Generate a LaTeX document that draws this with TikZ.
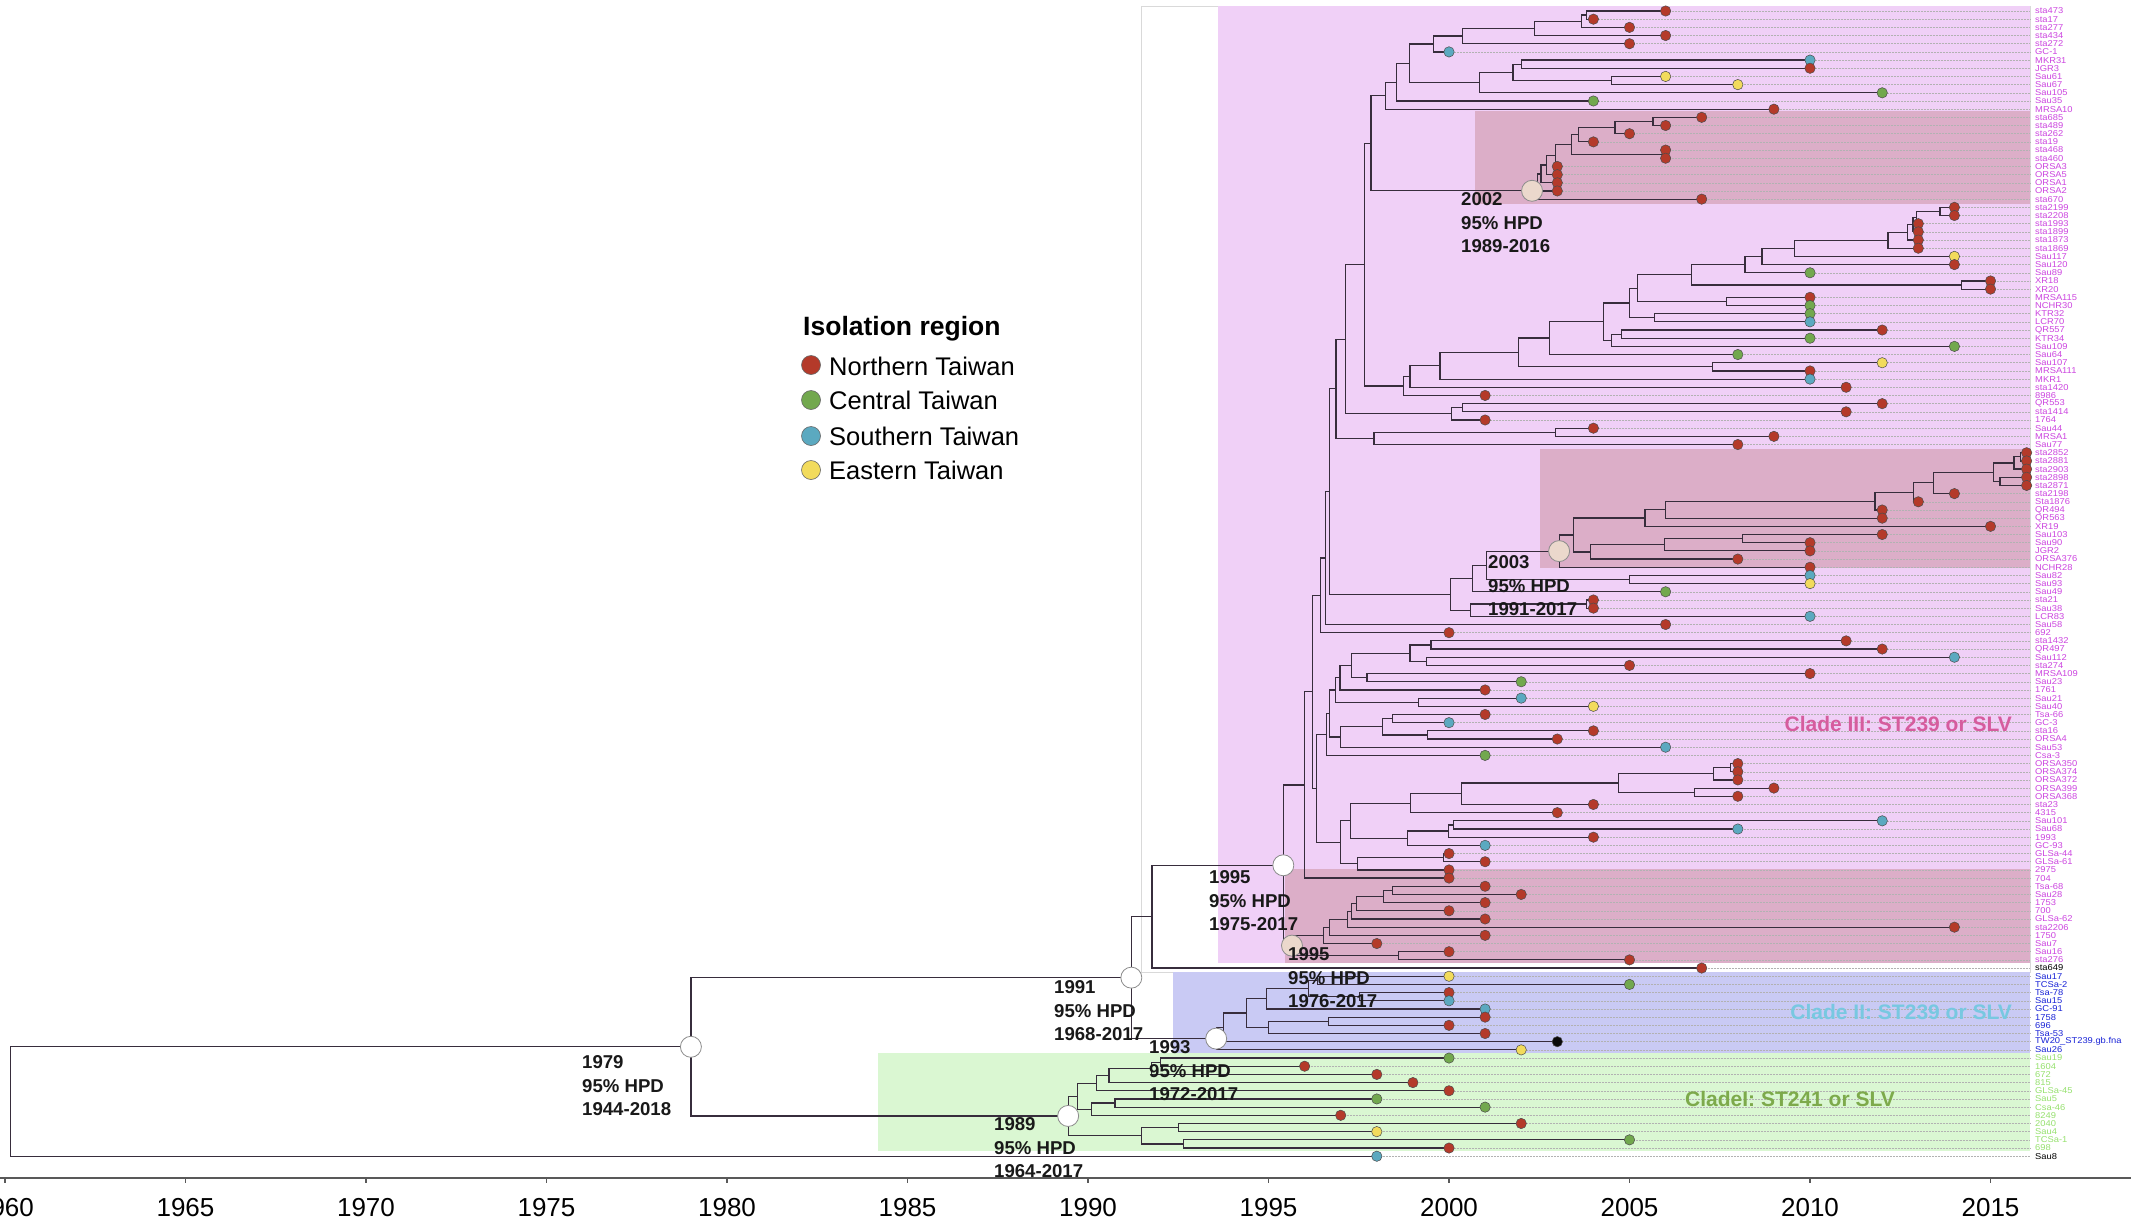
\documentclass[tikz,border=0pt]{standalone}
\usepackage{fontspec}
\setmainfont{Liberation Sans}
\newfontfamily\tipfont[FakeStretch=1.1]{Liberation Sans}
\usetikzlibrary{calc}
\pgfdeclarelayer{bg}\pgfdeclarelayer{ext}\pgfdeclarelayer{fg}
\pgfsetlayers{bg,ext,main,fg}
\definecolor{nt}{RGB}{180,58,42}
\definecolor{ct}{RGB}{114,168,78}
\definecolor{st}{RGB}{91,169,192}
\definecolor{et}{RGB}{242,219,92}
\definecolor{bk}{RGB}{10,10,10}
\definecolor{c3}{RGB}{204,68,224}
\definecolor{c2}{RGB}{25,35,215}
\definecolor{c1}{RGB}{150,225,110}
\definecolor{brc}{RGB}{55,45,60}
\definecolor{pinkbox}{RGB}{240,208,247}
\definecolor{mauvebox}{RGB}{220,174,200}
\definecolor{bluebox}{RGB}{201,202,244}
\definecolor{greenbox}{RGB}{218,247,210}
\definecolor{beige}{RGB}{235,216,204}
\definecolor{cl3}{RGB}{214,92,158}
\definecolor{cl2}{RGB}{120,200,225}
\definecolor{cl1}{RGB}{125,170,75}
\tikzset{
  br/.style={draw=brc, line width=1.2pt},
  extl/.style={draw=black!30, line width=0.5pt, densely dotted},
  tipdot/.style={draw=black!70, line width=0.5pt},
  tiplab/.style={anchor=west, inner sep=0pt, font=\tipfont\fontsize{8.5}{9}\selectfont},
  hpdw/.style={circle, draw=black!45, line width=0.8pt, fill=white, minimum size=21pt, inner sep=0pt},
  hpdb/.style={circle, draw=black!45, line width=0.8pt, fill=beige, minimum size=21pt, inner sep=0pt},
  hpdlab/.style={anchor=west, inner sep=0pt, align=left, text=black!90, font=\bfseries\fontsize{18.6}{23.5}\selectfont},
  cladelab/.style={inner sep=0pt, font=\bfseries\fontsize{21}{24}\selectfont},
  leglab/.style={anchor=west, inner sep=0pt, font=\fontsize{25.5}{28}\selectfont},
  legdot/.style={circle, draw=black!60, line width=0.6pt, minimum size=19pt, inner sep=0pt},
  axlab/.style={inner sep=0pt, font=\fontsize{26}{28}\selectfont}
}
\newcommand{\innode}[4]{%
  \path let \p1=(#3), \p2=(#4) in ({((#2)-2000)*36.1pt+1449pt},{0.5*(\y1)+0.5*(\y2)}) coordinate (#1);%
  \draw[br] (#1) |- (#3);%
  \draw[br] (#1) |- (#4);%
}
\newcommand{\tipnode}[6]{%
  \coordinate (#1) at ({((#3)-2000)*36.1pt+1449pt},{-(11+((#2)-1)*8.18)*1pt});%
  \begin{pgfonlayer}{ext}\draw[extl] (#1) -- (#1 -| rgt);\end{pgfonlayer}%
  \begin{pgfonlayer}{fg}\path[tipdot, fill=#4] (#1) circle[radius=5.2pt];\end{pgfonlayer}%
  \node[tiplab, text=#5] (lab#1) at ({2035pt},{-(11+((#2)-1)*8.18)*1pt}) {#6};%
}
\begin{document}
\begin{tikzpicture}[x=1pt,y=-1pt]
\useasboundingbox (0,0) rectangle (2131,1229);
\coordinate (rgt) at (2030,0);
% ---------- boxes ----------
\begin{pgfonlayer}{bg}
\fill[white] (0,0) rectangle (2131,1229);
\draw[draw=black!15, fill=white, line width=0.8pt] (1141,6) rectangle (2030,972);
\fill[pinkbox] (1218,6) rectangle (2030,963);
\fill[mauvebox] (1475,111) rectangle (2030,204);
\fill[mauvebox] (1540,449) rectangle (2030,568);
\fill[mauvebox] (1285,869) rectangle (2030,963);
\fill[bluebox] (1173,972) rectangle (2030,1053);
\fill[greenbox] (878,1053) rectangle (2030,1151);
\end{pgfonlayer}
% ---------- tips ----------
\tipnode{t1}{1}{2006}{nt}{c3}{sta473}
\tipnode{t2}{2}{2004}{nt}{c3}{sta17}
\tipnode{t3}{3}{2005}{nt}{c3}{sta277}
\tipnode{t4}{4}{2006}{nt}{c3}{sta434}
\tipnode{t5}{5}{2005}{nt}{c3}{sta272}
\tipnode{t6}{6}{2000}{st}{c3}{GC-1}
\tipnode{t7}{7}{2010}{st}{c3}{MKR31}
\tipnode{t8}{8}{2010}{nt}{c3}{JGR3}
\tipnode{t9}{9}{2006}{et}{c3}{Sau61}
\tipnode{t10}{10}{2008}{et}{c3}{Sau67}
\tipnode{t11}{11}{2012}{ct}{c3}{Sau105}
\tipnode{t12}{12}{2004}{ct}{c3}{Sau35}
\tipnode{t13}{13}{2009}{nt}{c3}{MRSA10}
\tipnode{t14}{14}{2007}{nt}{c3}{sta685}
\tipnode{t15}{15}{2006}{nt}{c3}{sta489}
\tipnode{t16}{16}{2005}{nt}{c3}{sta262}
\tipnode{t17}{17}{2004}{nt}{c3}{sta19}
\tipnode{t18}{18}{2006}{nt}{c3}{sta468}
\tipnode{t19}{19}{2006}{nt}{c3}{sta460}
\tipnode{t20}{20}{2003}{nt}{c3}{ORSA3}
\tipnode{t21}{21}{2003}{nt}{c3}{ORSA5}
\tipnode{t22}{22}{2003}{nt}{c3}{ORSA1}
\tipnode{t23}{23}{2003}{nt}{c3}{ORSA2}
\tipnode{t24}{24}{2007}{nt}{c3}{sta670}
\tipnode{t25}{25}{2014}{nt}{c3}{sta2199}
\tipnode{t26}{26}{2014}{nt}{c3}{sta2208}
\tipnode{t27}{27}{2013}{nt}{c3}{sta1993}
\tipnode{t28}{28}{2013}{nt}{c3}{sta1899}
\tipnode{t29}{29}{2013}{nt}{c3}{sta1873}
\tipnode{t30}{30}{2013}{nt}{c3}{sta1869}
\tipnode{t31}{31}{2014}{et}{c3}{Sau117}
\tipnode{t32}{32}{2014}{nt}{c3}{Sau120}
\tipnode{t33}{33}{2010}{ct}{c3}{Sau89}
\tipnode{t34}{34}{2015}{nt}{c3}{XR18}
\tipnode{t35}{35}{2015}{nt}{c3}{XR20}
\tipnode{t36}{36}{2010}{nt}{c3}{MRSA115}
\tipnode{t37}{37}{2010}{ct}{c3}{NCHR30}
\tipnode{t38}{38}{2010}{ct}{c3}{KTR32}
\tipnode{t39}{39}{2010}{st}{c3}{LCR70}
\tipnode{t40}{40}{2012}{nt}{c3}{QR557}
\tipnode{t41}{41}{2010}{ct}{c3}{KTR34}
\tipnode{t42}{42}{2014}{ct}{c3}{Sau109}
\tipnode{t43}{43}{2008}{ct}{c3}{Sau64}
\tipnode{t44}{44}{2012}{et}{c3}{Sau107}
\tipnode{t45}{45}{2010}{nt}{c3}{MRSA111}
\tipnode{t46}{46}{2010}{st}{c3}{MKR1}
\tipnode{t47}{47}{2011}{nt}{c3}{sta1420}
\tipnode{t48}{48}{2001}{nt}{c3}{8986}
\tipnode{t49}{49}{2012}{nt}{c3}{QR553}
\tipnode{t50}{50}{2011}{nt}{c3}{sta1414}
\tipnode{t51}{51}{2001}{nt}{c3}{1764}
\tipnode{t52}{52}{2004}{nt}{c3}{Sau44}
\tipnode{t53}{53}{2009}{nt}{c3}{MRSA1}
\tipnode{t54}{54}{2008}{nt}{c3}{Sau77}
\tipnode{t55}{55}{2016}{nt}{c3}{sta2852}
\tipnode{t56}{56}{2016}{nt}{c3}{sta2881}
\tipnode{t57}{57}{2016}{nt}{c3}{sta2903}
\tipnode{t58}{58}{2016}{nt}{c3}{sta2898}
\tipnode{t59}{59}{2016}{nt}{c3}{sta2871}
\tipnode{t60}{60}{2014}{nt}{c3}{sta2198}
\tipnode{t61}{61}{2013}{nt}{c3}{Sta1876}
\tipnode{t62}{62}{2012}{nt}{c3}{QR494}
\tipnode{t63}{63}{2012}{nt}{c3}{QR563}
\tipnode{t64}{64}{2015}{nt}{c3}{XR19}
\tipnode{t65}{65}{2012}{nt}{c3}{Sau103}
\tipnode{t66}{66}{2010}{nt}{c3}{Sau90}
\tipnode{t67}{67}{2010}{nt}{c3}{JGR2}
\tipnode{t68}{68}{2008}{nt}{c3}{ORSA376}
\tipnode{t69}{69}{2010}{nt}{c3}{NCHR28}
\tipnode{t70}{70}{2010}{st}{c3}{Sau82}
\tipnode{t71}{71}{2010}{et}{c3}{Sau93}
\tipnode{t72}{72}{2006}{ct}{c3}{Sau49}
\tipnode{t73}{73}{2004}{nt}{c3}{sta21}
\tipnode{t74}{74}{2004}{nt}{c3}{Sau38}
\tipnode{t75}{75}{2010}{st}{c3}{LCR83}
\tipnode{t76}{76}{2006}{nt}{c3}{Sau58}
\tipnode{t77}{77}{2000}{nt}{c3}{692}
\tipnode{t78}{78}{2011}{nt}{c3}{sta1432}
\tipnode{t79}{79}{2012}{nt}{c3}{QR497}
\tipnode{t80}{80}{2014}{st}{c3}{Sau112}
\tipnode{t81}{81}{2005}{nt}{c3}{sta274}
\tipnode{t82}{82}{2010}{nt}{c3}{MRSA109}
\tipnode{t83}{83}{2002}{ct}{c3}{Sau23}
\tipnode{t84}{84}{2001}{nt}{c3}{1761}
\tipnode{t85}{85}{2002}{st}{c3}{Sau21}
\tipnode{t86}{86}{2004}{et}{c3}{Sau40}
\tipnode{t87}{87}{2001}{nt}{c3}{Tsa-66}
\tipnode{t88}{88}{2000}{st}{c3}{GC-3}
\tipnode{t89}{89}{2004}{nt}{c3}{sta16}
\tipnode{t90}{90}{2003}{nt}{c3}{ORSA4}
\tipnode{t91}{91}{2006}{st}{c3}{Sau53}
\tipnode{t92}{92}{2001}{ct}{c3}{Csa-3}
\tipnode{t93}{93}{2008}{nt}{c3}{ORSA350}
\tipnode{t94}{94}{2008}{nt}{c3}{ORSA374}
\tipnode{t95}{95}{2008}{nt}{c3}{ORSA372}
\tipnode{t96}{96}{2009}{nt}{c3}{ORSA399}
\tipnode{t97}{97}{2008}{nt}{c3}{ORSA368}
\tipnode{t98}{98}{2004}{nt}{c3}{sta23}
\tipnode{t99}{99}{2003}{nt}{c3}{4315}
\tipnode{t100}{100}{2012}{st}{c3}{Sau101}
\tipnode{t101}{101}{2008}{st}{c3}{Sau68}
\tipnode{t102}{102}{2004}{nt}{c3}{1993}
\tipnode{t103}{103}{2001}{st}{c3}{GC-93}
\tipnode{t104}{104}{2000}{nt}{c3}{GLSa-44}
\tipnode{t105}{105}{2001}{nt}{c3}{GLSa-61}
\tipnode{t106}{106}{2000}{nt}{c3}{2975}
\tipnode{t107}{107}{2000}{nt}{c3}{704}
\tipnode{t108}{108}{2001}{nt}{c3}{Tsa-68}
\tipnode{t109}{109}{2002}{nt}{c3}{Sau28}
\tipnode{t110}{110}{2001}{nt}{c3}{1753}
\tipnode{t111}{111}{2000}{nt}{c3}{700}
\tipnode{t112}{112}{2001}{nt}{c3}{GLSa-62}
\tipnode{t113}{113}{2014}{nt}{c3}{sta2206}
\tipnode{t114}{114}{2001}{nt}{c3}{1750}
\tipnode{t115}{115}{1998}{nt}{c3}{Sau7}
\tipnode{t116}{116}{2000}{nt}{c3}{Sau16}
\tipnode{t117}{117}{2005}{nt}{c3}{sta276}
\tipnode{t118}{118}{2007}{nt}{black}{sta649}
\tipnode{t119}{119}{2000}{et}{c2}{Sau17}
\tipnode{t120}{120}{2005}{ct}{c2}{TCSa-2}
\tipnode{t121}{121}{2000}{nt}{c2}{Tsa-78}
\tipnode{t122}{122}{2000}{st}{c2}{Sau15}
\tipnode{t123}{123}{2001}{st}{c2}{GC-91}
\tipnode{t124}{124}{2001}{nt}{c2}{1758}
\tipnode{t125}{125}{2000}{nt}{c2}{696}
\tipnode{t126}{126}{2001}{nt}{c2}{Tsa-53}
\tipnode{t127}{127}{2003}{bk}{c2}{TW20\_ST239.gb.fna}
\tipnode{t128}{128}{2002}{et}{c2}{Sau26}
\tipnode{t129}{129}{2000}{ct}{c1}{Sau19}
\tipnode{t130}{130}{1996}{nt}{c1}{1604}
\tipnode{t131}{131}{1998}{nt}{c1}{672}
\tipnode{t132}{132}{1999}{nt}{c1}{815}
\tipnode{t133}{133}{2000}{nt}{c1}{GLSa-45}
\tipnode{t134}{134}{1998}{ct}{c1}{Sau5}
\tipnode{t135}{135}{2001}{ct}{c1}{Csa-46}
\tipnode{t136}{136}{1997}{nt}{c1}{8249}
\tipnode{t137}{137}{2002}{nt}{c1}{2040}
\tipnode{t138}{138}{1998}{et}{c1}{Sau4}
\tipnode{t139}{139}{2005}{ct}{c1}{TCSa-1}
\tipnode{t140}{140}{2000}{nt}{c1}{698}
\tipnode{t141}{141}{1998}{st}{black}{Sau8}
% ---------- internal nodes: top group ----------
\innode{nM}{2003.8}{t1}{t2}
\innode{nL}{2003.66}{nM}{t3}
\innode{nK}{2002.37}{nL}{t4}
\innode{nJ}{2000.37}{nK}{t5}
\innode{nE}{1999.57}{nJ}{t6}
\innode{nH}{2002.0}{t7}{t8}
\innode{nI}{2004.5}{t9}{t10}
\innode{nG}{2001.77}{nH}{nI}
\innode{nF}{2000.84}{nG}{t11}
\innode{nD}{1998.9}{nE}{nF}
\innode{nC}{1998.55}{nD}{t12}
\innode{nB}{1998.25}{nC}{t13}
\innode{Qa}{2005.65}{t14}{t15}
\innode{Qb}{2004.6}{Qa}{t16}
\innode{Qc}{2003.58}{Qb}{t17}
\innode{Qd}{2005.95}{t18}{t19}
\innode{Qe}{2003.4}{Qc}{Qd}
\innode{Qf}{2002.94}{Qe}{t20}
\innode{Qg}{2002.7}{Qf}{t21}
\innode{Qh}{2002.55}{Qg}{t22}
\innode{Qi}{2002.45}{Qh}{t23}
\innode{N2002}{2002.3}{Qi}{t24}
\innode{nA}{1997.84}{nB}{N2002}
% rows 25-48
\innode{W1}{2013.6}{t25}{t26}
\innode{W2}{2012.95}{W1}{t27}
\innode{W3}{2012.85}{W2}{t28}
\innode{W4}{2012.7}{W3}{t29}
\innode{W6}{2012.16}{W4}{t30}
\innode{W7}{2009.56}{W6}{t31}
\innode{W8}{2008.67}{W7}{t32}
\innode{W8b}{2008.2}{W8}{t33}
\innode{XRp}{2014.19}{t34}{t35}
\innode{W9}{2006.71}{W8b}{XRp}
\innode{T11}{2007.68}{t36}{t37}
\innode{W10}{2005.22}{W9}{T11}
\innode{T10}{2005.7}{t38}{t39}
\innode{T7}{2004.99}{W10}{T10}
\innode{T9}{2004.78}{t40}{t41}
\innode{T8}{2004.5}{T9}{t42}
\innode{T6}{2004.28}{T7}{T8}
\innode{T4}{2002.78}{T6}{t43}
\innode{T5}{2007.29}{t44}{t45}
\innode{T3}{2001.92}{T4}{T5}
\innode{T2}{1999.75}{T3}{t46}
\innode{T1}{1998.92}{T2}{t47}
\innode{T0}{1998.74}{T1}{t48}
\innode{S1}{1997.65}{nA}{T0}
\innode{U1}{2000.38}{t49}{t50}
\innode{U0}{2000.07}{U1}{t51}
\innode{S2}{1997.14}{S1}{U0}
\innode{V1}{2002.96}{t52}{t53}
\innode{V0}{1997.92}{V1}{t54}
\innode{S3}{1996.87}{S2}{V0}
% 2003 clade
\innode{P1}{2015.82}{t55}{t56}
\innode{P2}{2015.65}{P1}{t57}
\innode{P3}{2015.26}{t58}{t59}
\innode{P4}{2015.08}{P2}{P3}
\innode{P5}{2013.43}{P4}{t60}
\innode{P6}{2012.87}{P5}{t61}
\innode{P7}{2011.8}{P6}{t62}
\innode{P8}{2006.0}{P7}{t63}
\innode{P9}{2005.43}{P8}{t64}
\innode{P11}{2008.12}{t65}{t66}
\innode{P12}{2005.96}{P11}{t67}
\innode{P13}{2003.93}{P12}{t68}
\innode{P10}{2003.45}{P9}{P13}
\innode{N2003}{2003.05}{P10}{t69}
\innode{Od}{2005.0}{t70}{t71}
\innode{Oe}{2001.04}{N2003}{Od}
\innode{Oa}{2000.65}{Oe}{t72}
\innode{Oc}{2003.8}{t73}{t74}
\innode{Ob}{2000.6}{Oc}{t75}
\innode{O0}{2000.05}{Oa}{Ob}
\innode{S4}{1996.7}{S3}{O0}
\innode{S5}{1996.57}{S4}{t76}
\innode{S6}{1996.43}{S5}{t77}
% rows 78-92
\innode{Z1}{1999.5}{t78}{t79}
\innode{Z2}{1999.38}{t80}{t81}
\innode{Z3}{1998.92}{Z1}{Z2}
\innode{Z5}{1997.73}{t82}{t83}
\innode{Z4}{1997.3}{Z3}{Z5}
\innode{Z6}{1996.98}{Z4}{t84}
\innode{Z7}{1999.16}{t85}{t86}
\innode{Z8}{1996.85}{Z6}{Z7}
\innode{Z9}{1998.43}{t87}{t88}
\innode{Z10}{1999.4}{t89}{t90}
\innode{Z11}{1998.15}{Z9}{Z10}
\innode{Z12}{1997.0}{Z11}{t91}
\innode{Z13}{1996.7}{Z8}{Z12}
\innode{X5}{1996.6}{Z13}{t92}
% rows 93-106
\innode{Y1}{2007.8}{t93}{t94}
\innode{Y2}{2007.33}{Y1}{t95}
\innode{Y3}{2006.8}{t96}{t97}
\innode{Y4}{2004.7}{Y2}{Y3}
\innode{Y5}{2000.34}{Y4}{t98}
\innode{Y6}{1998.94}{Y5}{t99}
\innode{Y7}{2000.12}{t100}{t101}
\innode{Y8}{1999.98}{Y7}{t102}
\innode{Y9}{1998.85}{Y8}{t103}
\innode{Y10}{1997.26}{Y6}{Y9}
\innode{X1}{1999.84}{t104}{t105}
\innode{X2}{1997.47}{X1}{t106}
\innode{X4}{1997.0}{Y10}{X2}
\innode{X3}{1996.33}{X5}{X4}
\innode{S7}{1996.22}{S6}{X3}
\innode{R3a}{1996.0}{S7}{t107}
% lower 1995 clade
\innode{L1}{1998.43}{t108}{t109}
\innode{L2}{1998.18}{L1}{t110}
\innode{L3}{1997.44}{L2}{t111}
\innode{L4}{1997.3}{L3}{t112}
\innode{L5}{1997.18}{L4}{t113}
\innode{L6}{1996.7}{L5}{t114}
\innode{L7}{1996.52}{L6}{t115}
\innode{L8}{1998.6}{t116}{t117}
\innode{R3L}{1995.65}{L7}{L8}
\innode{R3}{1995.41}{R3a}{R3L}
\innode{Qn}{1991.77}{R3}{t118}
% clade II
\innode{C4}{1996.35}{t119}{t120}
\innode{C3}{1997.53}{t121}{t122}
\innode{C5}{1996.1}{C4}{C3}
\innode{C2}{1994.95}{C5}{t123}
\innode{C7}{1996.66}{t124}{t125}
\innode{C6}{1995.0}{C7}{t126}
\innode{C1}{1994.4}{C2}{C6}
\innode{C0}{1993.75}{C1}{t127}
\innode{N1993}{1993.55}{C0}{t128}
\innode{N1991}{1991.2}{Qn}{N1993}
% clade I
\innode{G1}{1992.0}{t129}{t130}
\innode{G1b}{1991.76}{G1}{t131}
\innode{G2}{1990.58}{G1b}{t132}
\innode{G3}{1990.24}{G2}{t133}
\innode{G4}{1990.75}{t134}{t135}
\innode{G5}{1990.1}{G4}{t136}
\innode{G6}{1989.7}{G3}{G5}
\innode{G8}{1992.5}{t137}{t138}
\innode{G9}{1992.64}{t139}{t140}
\innode{G7}{1991.48}{G8}{G9}
\innode{N1989}{1989.45}{G6}{G7}
\innode{N1979}{1979.0}{N1991}{N1989}
\innode{root}{1960.15}{N1979}{t141}
% ---------- HPD circles and labels ----------
\begin{pgfonlayer}{fg}
\node[hpdw] (cN1979) at (N1979) {};
\node[hpdw] (cN1989) at (N1989) {};
\node[hpdw] (cN1991) at (N1991) {};
\node[hpdw] (cN1993) at (N1993) {};
\node[hpdw] (cR3) at (R3) {};
\node[hpdb] (cR3L) at (R3L) {};
\node[hpdb] (cN2002) at (N2002) {};
\node[hpdb] (cN2003) at (N2003) {};
\node[hpdlab] (l1979) at (582,1086) {1979\\95\% HPD\\1944-2018};
\node[hpdlab] (l1989) at (994,1148) {1989\\95\% HPD\\1964-2017};
\node[hpdlab] (l1991) at (1054,1011) {1991\\95\% HPD\\1968-2017};
\node[hpdlab] (l1993) at (1149,1071) {1993\\95\% HPD\\1972-2017};
\node[hpdlab] (l1995a) at (1209,901) {1995\\95\% HPD\\1975-2017};
\node[hpdlab] (l1995b) at (1288,978) {1995\\95\% HPD\\1976-2017};
\node[hpdlab] (l2002) at (1461,223) {2002\\95\% HPD\\1989-2016};
\node[hpdlab] (l2003) at (1488,586) {2003\\95\% HPD\\1991-2017};
\node[cladelab, text=cl3, anchor=east] (clade3) at (2012,724) {Clade III: ST239 or SLV};
\node[cladelab, text=cl2, anchor=east] (clade2) at (2012,1012) {Clade II: ST239 or SLV};
\node[cladelab, text=cl1] (clade1) at (1790,1099) {CladeI: ST241 or SLV};
\end{pgfonlayer}
% ---------- legend ----------
\node[anchor=west, inner sep=0pt, font=\bfseries\fontsize{26.5}{28}\selectfont] (legtitle) at (803,329) {Isolation region};
\node[legdot, fill=nt] (dN) at (811,365) {};
\node[legdot, fill=ct] (dC) at (811,400) {};
\node[legdot, fill=st] (dS) at (811,436) {};
\node[legdot, fill=et] (dE) at (811,470) {};
\node[leglab] (tN) at (829,366) {Northern Taiwan};
\node[leglab] (tC) at (829,400) {Central Taiwan};
\node[leglab] (tS) at (829,436) {Southern Taiwan};
\node[leglab] (tE) at (829,470) {Eastern Taiwan};
% ---------- axis ----------
\coordinate (axL) at (0,1178);
\coordinate (axR) at (2131,1178);
\draw[draw=black!65, line width=2pt] (axL) -- (axR);
\foreach \yr in {1960,1965,...,2015}{
  \coordinate (tk\yr) at ({(\yr-2000)*36.1+1449},1178);
  \draw[draw=black!65, line width=1.2pt] (tk\yr) -- ++(0,5);
}
\begin{scope}
\clip (0,1186) rectangle (2131,1229);
\foreach \yr in {1960,1965,...,2015}{
  \node[axlab] (ax\yr) at ({(\yr-2000)*36.1+1449},1208) {\yr};
}
\end{scope}
\end{tikzpicture}
\end{document}
